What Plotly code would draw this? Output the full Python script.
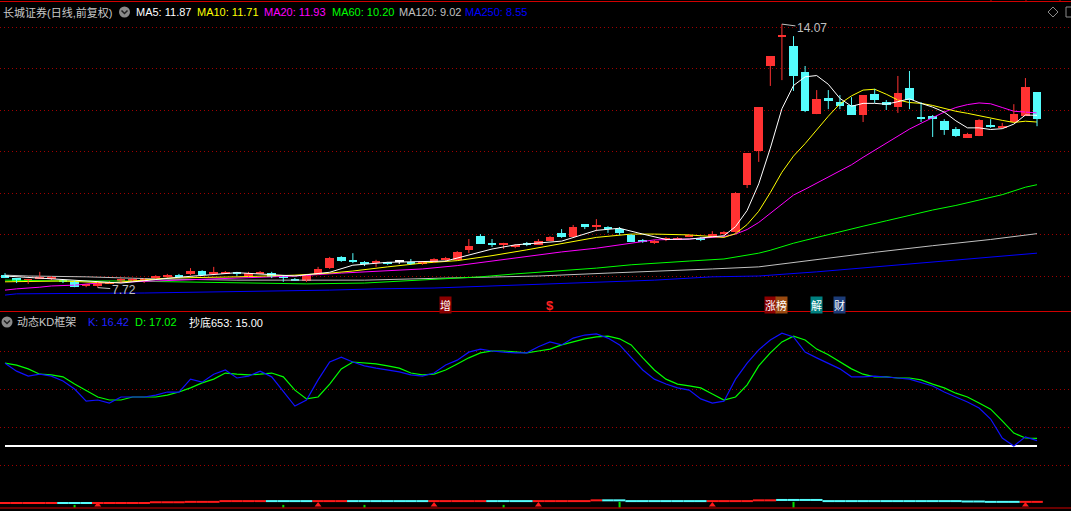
import plotly.graph_objects as go

W, H = 1071, 511

# ---------------- data: daily candles (price) ----------------
opens = [8.02, 7.95, 7.88, 7.93, 7.93, 7.88, 7.88, 7.76, 7.76, 7.83,
         7.90, 7.90, 7.88, 7.95, 7.98, 8.02, 8.05, 8.12, 8.05, 8.07,
         8.07, 8.00, 8.07, 8.07, 8.00, 7.93, 7.88, 8.05, 8.19, 8.46,
         8.39, 8.34, 8.31, 8.31, 8.34, 8.34, 8.29, 8.34, 8.39, 8.39,
         8.63, 8.96, 8.80, 8.75, 8.72, 8.80, 8.75, 8.84, 9.04, 8.94,
         9.25, 9.20, 9.18, 9.13, 8.99, 8.87, 8.80, 8.87, 8.87, 8.94,
         8.90, 8.94, 9.01, 9.06, 10.19, 11.01, 13.06, 13.76, 13.54, 12.92,
         11.90, 12.29, 12.19, 12.12, 11.88, 12.39, 12.19, 12.07, 12.53, 11.83,
         11.86, 11.73, 11.54, 11.33, 11.37, 11.64, 11.59, 11.71, 11.86, 12.43]
highs = [8.07, 7.95, 7.93, 8.10, 8.00, 7.90, 7.88, 7.81, 7.86, 7.88,
         7.95, 7.95, 7.95, 8.02, 8.05, 8.05, 8.19, 8.14, 8.22, 8.12,
         8.10, 8.10, 8.12, 8.10, 8.02, 7.95, 8.02, 8.22, 8.46, 8.48,
         8.55, 8.36, 8.39, 8.34, 8.36, 8.41, 8.36, 8.43, 8.46, 8.60,
         8.89, 9.01, 8.89, 8.80, 8.77, 8.82, 8.89, 8.96, 9.13, 9.23,
         9.25, 9.37, 9.20, 9.18, 9.01, 8.89, 8.87, 8.94, 8.94, 9.01,
         8.94, 9.08, 9.08, 10.02, 10.96, 12.07, 13.30, 14.07, 13.78, 13.06,
         12.48, 12.48, 12.36, 12.31, 12.36, 12.51, 12.24, 12.82, 12.94, 12.19,
         11.88, 11.78, 11.59, 11.45, 11.78, 11.78, 11.69, 12.14, 12.77, 12.43]
lows = [7.95, 7.83, 7.81, 7.93, 7.90, 7.83, 7.73, 7.73, 7.72, 7.81,
        7.83, 7.88, 7.83, 7.93, 7.95, 7.95, 8.02, 8.00, 8.02, 8.05,
        8.00, 7.98, 8.05, 7.95, 7.86, 7.88, 7.86, 8.02, 8.17, 8.34,
        8.31, 8.24, 8.22, 8.27, 8.29, 8.27, 8.27, 8.31, 8.36, 8.39,
        8.55, 8.77, 8.70, 8.65, 8.67, 8.72, 8.75, 8.84, 8.92, 8.94,
        9.13, 9.08, 9.04, 8.99, 8.82, 8.80, 8.77, 8.84, 8.87, 8.94,
        8.84, 8.94, 8.99, 9.04, 10.12, 10.75, 12.58, 12.72, 12.46, 11.95,
        11.90, 12.02, 12.02, 11.88, 11.71, 12.17, 12.00, 11.93, 12.02, 11.71,
        11.35, 11.40, 11.35, 11.33, 11.37, 11.57, 11.57, 11.71, 11.86, 11.61]
closes = [7.95, 7.88, 7.90, 7.98, 7.95, 7.86, 7.73, 7.78, 7.83, 7.86,
          7.93, 7.93, 7.90, 8.00, 8.02, 7.98, 8.12, 8.02, 8.10, 8.10,
          8.05, 8.07, 8.10, 7.98, 7.95, 7.90, 8.02, 8.17, 8.43, 8.36,
          8.34, 8.31, 8.36, 8.29, 8.34, 8.29, 8.34, 8.41, 8.43, 8.58,
          8.72, 8.77, 8.75, 8.77, 8.75, 8.75, 8.84, 8.94, 8.94, 9.18,
          9.18, 9.24, 9.13, 9.04, 8.82, 8.82, 8.84, 8.89, 8.92, 8.99,
          8.88, 9.01, 9.06, 10.00, 10.96, 12.07, 13.30, 13.81, 12.82, 11.98,
          12.26, 12.22, 12.10, 11.88, 12.36, 12.24, 12.12, 12.41, 12.24, 11.78,
          11.78, 11.52, 11.37, 11.42, 11.76, 11.59, 11.61, 11.90, 12.55, 11.78]

# ---------------- moving averages (read at bar indices) ----------------
ma5_idx = [0, 5, 10, 15, 20, 25, 28, 30, 33, 38, 40, 42, 44, 48, 51, 53, 55, 57, 59, 61, 62,
           63, 64, 65, 66, 67, 68, 69, 70, 71, 72, 73, 74, 75, 76, 77, 78, 79, 80, 81, 82,
           83, 84, 85, 86, 87, 88, 89]
ma5_val = [8.00, 7.91, 7.83, 7.97, 8.08, 8.00, 8.09, 8.26, 8.33, 8.36, 8.50, 8.65, 8.75, 8.84,
           9.10, 9.15, 9.01, 8.88, 8.89, 8.94, 8.97,
           9.19, 9.58, 10.22, 11.08, 12.03, 12.59, 12.80, 12.83, 12.62, 12.28, 12.09, 12.16,
           12.16, 12.14, 12.20, 12.27, 12.16, 12.07, 11.95, 11.74, 11.57, 11.57, 11.53, 11.55,
           11.66, 11.88, 11.87]
ma10_idx = [0, 5, 9, 14, 20, 25, 28, 30, 33, 36, 39, 42, 45, 48, 51, 54, 56, 59, 62,
            63, 64, 65, 66, 67, 68, 69, 70, 71, 72, 73, 74, 75, 76, 77, 78, 79, 80, 81, 82,
            83, 84, 85, 86, 87, 88, 89]
ma10_val = [7.86, 7.88, 7.83, 7.95, 7.98, 8.02, 8.07, 8.12, 8.22, 8.31, 8.37, 8.49, 8.63, 8.78,
            8.93, 9.01, 9.01, 8.99, 8.93,
            9.02, 9.24, 9.56, 10.01, 10.50, 10.89, 11.19, 11.53, 11.85, 12.15, 12.34, 12.48,
            12.50, 12.38, 12.24, 12.18, 12.16, 12.11, 12.04, 11.97, 11.92, 11.86, 11.80, 11.75,
            11.70, 11.73, 11.71]
ma20_idx = [0, 1, 3, 4, 6, 8, 13, 15, 21, 25, 29, 31, 33, 36, 39, 42, 45, 48, 51, 54, 56, 59,
            62, 63, 64, 65, 66, 67, 68, 69, 70, 71, 72, 73, 74, 75, 76, 77, 78, 79, 80, 81, 82,
            83, 84, 85, 86, 87, 88, 89]
ma20_val = [7.66, 7.69, 7.73, 7.76, 7.78, 7.83, 7.88, 7.90, 7.95, 8.00, 8.07, 8.10, 8.14, 8.17,
            8.25, 8.36, 8.46, 8.58, 8.67, 8.80, 8.87, 8.89,
            8.95, 9.01, 9.12, 9.29, 9.51, 9.75, 9.95, 10.09, 10.24, 10.39, 10.54, 10.68, 10.86,
            11.03, 11.19, 11.37, 11.54, 11.68, 11.82, 11.95, 12.06, 12.13, 12.17, 12.15, 12.06,
            11.97, 11.95, 11.93]
ma60_idx = [0, 5, 10, 16, 22, 26, 31, 34, 37, 41, 44, 48, 51, 54, 56, 59, 62, 65, 66, 67, 68,
            69, 70, 72, 74, 76, 78, 80, 82, 84, 86, 88, 89]
ma60_val = [7.90, 7.88, 7.88, 7.86, 7.83, 7.81, 7.83, 7.88, 7.93, 7.98, 8.05, 8.12, 8.19, 8.27,
            8.31, 8.36, 8.41, 8.55, 8.62, 8.71, 8.79, 8.86, 8.93, 9.07, 9.20, 9.33, 9.46, 9.59,
            9.70, 9.83, 9.96, 10.14, 10.20]
ma120_idx = [0, 2, 7, 13, 20, 31, 38, 46, 52, 57, 61, 65, 70, 75, 80, 85, 89]
ma120_val = [8.02, 8.00, 7.98, 7.93, 7.90, 7.90, 7.95, 8.00, 8.07, 8.12, 8.17, 8.22, 8.40,
             8.57, 8.73, 8.88, 9.02]
ma250_idx = [0, 1, 12, 18, 24, 28, 32, 37, 42, 47, 51, 56, 61, 65, 70, 75, 80, 85, 89]
ma250_val = [7.54, 7.57, 7.59, 7.61, 7.64, 7.66, 7.69, 7.71, 7.76, 7.81, 7.86, 7.90, 7.98,
             8.00, 8.10, 8.22, 8.34, 8.45, 8.55]

# ---------------- KD indicator ----------------
k_vals = [36.8, 34.7, 33.4, 33.9, 33.4, 32.1, 30.0, 26.8, 27.1, 26.3,
          27.9, 27.9, 27.9, 28.4, 29.2, 29.2, 32.6, 31.8, 33.9, 35.0,
          32.9, 33.4, 34.7, 33.2, 29.5, 25.5, 27.1, 32.4, 37.1, 38.4,
          37.1, 36.1, 35.5, 35.0, 34.5, 33.7, 33.4, 34.2, 36.3, 37.6,
          39.7, 40.5, 40.0, 39.7, 39.5, 39.5, 41.1, 42.4, 41.6, 43.4,
          44.2, 44.5, 43.4, 41.6, 38.2, 35.0, 32.6, 31.3, 30.3, 29.7,
          27.4, 26.3, 26.8, 32.6, 36.8, 40.3, 42.9, 44.7, 43.7, 39.7,
          38.2, 36.8, 35.3, 33.2, 33.2, 33.4, 33.2, 32.9, 32.6, 31.8,
          30.8, 29.2, 27.9, 26.6, 25.0, 22.1, 17.1, 15.0, 17.4, 16.42]
d_vals = [36.8, 36.3, 35.3, 33.9, 33.7, 33.2, 31.3, 29.5, 27.9, 27.1,
          27.1, 27.9, 27.9, 27.9, 28.4, 29.2, 30.3, 31.6, 32.6, 34.2,
          33.9, 33.7, 33.9, 34.2, 33.2, 29.7, 27.4, 27.9, 31.3, 35.3,
          37.1, 36.8, 36.6, 36.1, 35.5, 34.2, 33.7, 33.9, 35.0, 36.6,
          38.2, 39.5, 40.0, 40.0, 39.7, 39.5, 40.0, 40.5, 41.6, 42.4,
          43.2, 43.7, 43.9, 43.2, 41.6, 38.2, 35.0, 32.6, 31.3, 30.8,
          30.3, 28.7, 27.1, 27.9, 31.1, 36.1, 39.5, 42.4, 43.9, 42.9,
          40.5, 39.0, 37.1, 35.3, 33.9, 33.2, 33.2, 32.9, 32.9, 32.4,
          31.3, 30.3, 28.9, 27.9, 26.3, 24.7, 21.6, 18.4, 17.1, 17.02]
chaodi_level = 15.00

# bottom strip (per bar level and colour), buy/sell signal bars
strip_val = [0.0] * 13 + [0.2] * 3 + [0.3] * 3 + [0.5] * 32 + [0.7] * 3 + [0.5] * 11 + \
            [0.7] * 2 + [0.8] * 4 + [0.5] * 12 + [0.4] * 2 + [0.3] * 5
strip_up = [1] * 5 + [0] * 3 + [1] * 15 + [0] * 4 + [1] * 3 + [0] * 7 + [1] * 5 + [0] * 4 + \
           [1] * 6 + [0] * 9 + [1] * 6 + [0] * 21 + [1] * 2
buy_bars = [6, 24, 31, 43, 53, 68]
buy_top = [-0.5, -0.5, -0.5, -0.5, 0.3, 0.3]
sell_bars = [8, 27, 37, 46, 61, 88]

# event tags under the price panel
tag_bars = [38, 66, 67, 70, 72]
tag_text = ['增', '涨', '榜', '解', '财']
tag_bg = ['#8b0000', '#8b0000', '#9a4a10', '#008080', '#1c3c78']
dollar_bar = 47

legend_ma = [('MA5: 11.87', '#ffffff', 135), ('MA10: 11.71', '#ffff00', 196),
             ('MA20: 11.93', '#ff00ff', 263), ('MA60: 10.20', '#00ff00', 331),
             ('MA120: 9.02', '#c0c0c0', 398), ('MA250: 8.55', '#0000ff', 464)]

# ---------------- helpers ----------------
RED = '#ff3232'
CYAN = '#54fcfc'
GRID = '#a00000'
FONT = 'Liberation Sans, Arial, Noto Sans CJK SC'
FS = 11


def px(x):
    return x / W


def py(y):
    return 1 - y / H


n = len(closes)
idx = list(range(n))
X0, X1 = -0.431, 91.93

fig = go.Figure()

up = [i for i in idx if closes[i] > opens[i]]
dn = [i for i in idx if closes[i] < opens[i]]
eq = [i for i in idx if closes[i] == opens[i]]


def wicks(sel, color):
    xs, ys = [], []
    for i in sel:
        xs += [i, i, None]
        ys += [lows[i], highs[i], None]
    return go.Scatter(x=xs, y=ys, mode='lines', line=dict(color=color, width=1),
                      hoverinfo='skip', xaxis='x', yaxis='y')


def bodies(sel, color):
    return go.Bar(x=sel,
                  y=[max(abs(closes[i] - opens[i]), 0.03) for i in sel],
                  base=[min(opens[i], closes[i]) for i in sel],
                  width=0.74, marker=dict(color=color, line=dict(width=0)),
                  hoverinfo='skip', xaxis='x', yaxis='y')


# moving averages
for xs, ys, c in [(ma250_idx, ma250_val, '#0000ff'), (ma120_idx, ma120_val, '#c0c0c0'),
                  (ma60_idx, ma60_val, '#00ff00'), (ma20_idx, ma20_val, '#ff00ff'),
                  (ma10_idx, ma10_val, '#ffff00')]:
    fig.add_trace(go.Scatter(x=xs, y=ys, mode='lines', line=dict(color=c, width=1),
                             hoverinfo='skip', xaxis='x', yaxis='y'))

fig.add_trace(wicks(up, RED))
fig.add_trace(wicks(dn, CYAN))
fig.add_trace(wicks(eq, '#ffffff'))
fig.add_trace(bodies(up, RED))
fig.add_trace(bodies(dn, CYAN))
fig.add_trace(bodies(eq, '#ffffff'))
fig.add_trace(go.Scatter(x=ma5_idx, y=ma5_val, mode='lines', line=dict(color='#ffffff', width=1),
                         hoverinfo='skip', xaxis='x', yaxis='y'))

# KD panel
fig.add_trace(go.Scatter(x=[0, n - 1], y=[chaodi_level, chaodi_level], mode='lines',
                         line=dict(color='#ffffff', width=2), hoverinfo='skip',
                         xaxis='x2', yaxis='y2'))
fig.add_trace(go.Scatter(x=idx, y=d_vals, mode='lines', line=dict(color='#00ff00', width=1.2),
                         hoverinfo='skip', xaxis='x2', yaxis='y2'))
fig.add_trace(go.Scatter(x=idx, y=k_vals, mode='lines', line=dict(color='#1010ff', width=1.2),
                         hoverinfo='skip', xaxis='x2', yaxis='y2'))

for flag, col in [(1, '#ff1a1a'), (0, CYAN)]:
    xs, ys = [], []
    for i in idx:
        if strip_up[i] == flag:
            xs += [i - 0.5, i + 0.5, None]
            ys += [strip_val[i], strip_val[i], None]
    fig.add_trace(go.Scatter(x=xs, y=ys, mode='lines', line=dict(color=col, width=2),
                             hoverinfo='skip', xaxis='x2', yaxis='y2'))

bx, byv = [], []
for b, t in zip(buy_bars, buy_top):
    bx += [b, b, None]
    byv += [-1.2, t, None]
fig.add_trace(go.Scatter(x=bx, y=byv, mode='lines', line=dict(color='#00e000', width=2),
                         hoverinfo='skip', xaxis='x2', yaxis='y2'))
fig.add_trace(go.Scatter(x=sell_bars, y=[-0.5] * len(sell_bars), mode='markers',
                         marker=dict(symbol='triangle-up', size=6, color='#ff1a1a'),
                         hoverinfo='skip', xaxis='x2', yaxis='y2'))

# ---------------- layout ----------------
shapes = []
for yy in (1.5, 311.5, 508):
    shapes.append(dict(type='line', xref='paper', yref='paper', x0=0, x1=1, y0=py(yy), y1=py(yy),
                       line=dict(color='#d00000', width=1)))
for xx in (991, 1026, 1060):
    shapes.append(dict(type='line', xref='paper', yref='paper', x0=px(xx), x1=px(xx),
                       y0=py(0), y1=py(2), line=dict(color='#d00000', width=1)))
# circle icons
for cx, cy in ((124.5, 12), (7, 322)):
    shapes.append(dict(type='circle', xref='paper', yref='paper', x0=px(cx - 5.5), x1=px(cx + 5.5),
                       y0=py(cy + 5.5), y1=py(cy - 5.5), fillcolor='#8a8a8a', line=dict(width=0)))
    shapes.append(dict(type='path', xref='paper', yref='paper',
                       path=f'M {px(cx - 3)} {py(cy - 1.5)} L {px(cx)} {py(cy + 1.5)} L {px(cx + 3)} {py(cy - 1.5)}',
                       line=dict(color='#202020', width=1.5)))
# top-right icons
shapes.append(dict(type='path', xref='paper', yref='paper',
                   path=f'M {px(1053)} {py(7)} L {px(1058)} {py(12)} L {px(1053)} {py(17)} L {px(1048)} {py(12)} Z',
                   line=dict(color='#8a8a8a', width=1)))
shapes.append(dict(type='rect', xref='paper', yref='paper', x0=px(1066), x1=px(1076), y0=py(17), y1=py(7),
                   line=dict(color='#8a8a8a', width=1)))

ann = []


def label(x, y, text, color, size=FS):
    ann.append(dict(x=px(x), y=py(y), xref='paper', yref='paper', text=text, showarrow=False,
                    xanchor='left', yanchor='middle', font=dict(color=color, size=size, family=FONT),
                    borderpad=0))


label(2, 12, '长城证券(日线,前复权)', '#c8c8c8')
for t, c, x in legend_ma:
    label(x, 12, t, c)
label(16, 322, '动态KD框架', '#c8c8c8')
label(87, 322, 'K: 16.42', '#2020ff')
label(134, 322, 'D: 17.02', '#00ff00')
label(188, 322, '抄底653: 15.00', '#ffffff')

# high / low markers
ann.append(dict(x=67, y=max(highs), xref='x', yref='y', text=f'{max(highs):.2f}', showarrow=True,
                arrowhead=0, arrowwidth=1, arrowcolor='#c0c0c0', ax=30, ay=4,
                font=dict(color='#c0c0c0', size=FS + 1, family=FONT)))
ann.append(dict(x=8, y=min(lows), xref='x', yref='y', text=f'{min(lows):.2f}', showarrow=True,
                arrowhead=0, arrowwidth=1, arrowcolor='#c0c0c0', ax=26, ay=2,
                font=dict(color='#c0c0c0', size=FS + 1, family=FONT)))

for b, t, bg in zip(tag_bars, tag_text, tag_bg):
    ann.append(dict(x=b, y=py(304.5), xref='x', yref='paper', text=t, showarrow=False,
                    bgcolor=bg, borderpad=0, font=dict(color='#ffffff', size=11, family='Noto Sans CJK SC')))
ann.append(dict(x=dollar_bar, y=py(305), xref='x', yref='paper', text='<b>$</b>', showarrow=False,
                font=dict(color='#ff2020', size=13, family=FONT)))

fig.update_layout(
    width=W, height=H, autosize=False,
    margin=dict(l=0, r=0, t=0, b=0, pad=0),
    paper_bgcolor='#000000', plot_bgcolor='#000000',
    showlegend=False, hovermode=False, barmode='overlay', bargap=0,
    xaxis=dict(domain=[0, 1], range=[X0, X1], visible=False, anchor='y'),
    xaxis2=dict(domain=[0, 1], range=[X0, X1], visible=False, anchor='y2', matches='x'),
    yaxis=dict(domain=[py(311), py(18)], range=[7.1566, 14.2169], tickvals=[8, 9, 10, 11, 12, 13, 14],
               showgrid=True, gridcolor=GRID, griddash='1px,3px', gridwidth=1, zeroline=False,
               showticklabels=False, ticks='', showline=False, anchor='x'),
    yaxis2=dict(domain=[py(508), py(312)], range=[-1.316, 50.263], tickvals=[10, 20, 30, 40],
                showgrid=True, gridcolor=GRID, griddash='1px,3px', gridwidth=1, zeroline=False,
                showticklabels=False, ticks='', showline=False, anchor='x2'),
    shapes=shapes, annotations=ann,
)

fig.write_html("out.html", config={'displayModeBar': False},
               post_script="document.body.style.margin='0';document.body.style.overflow='hidden';")
